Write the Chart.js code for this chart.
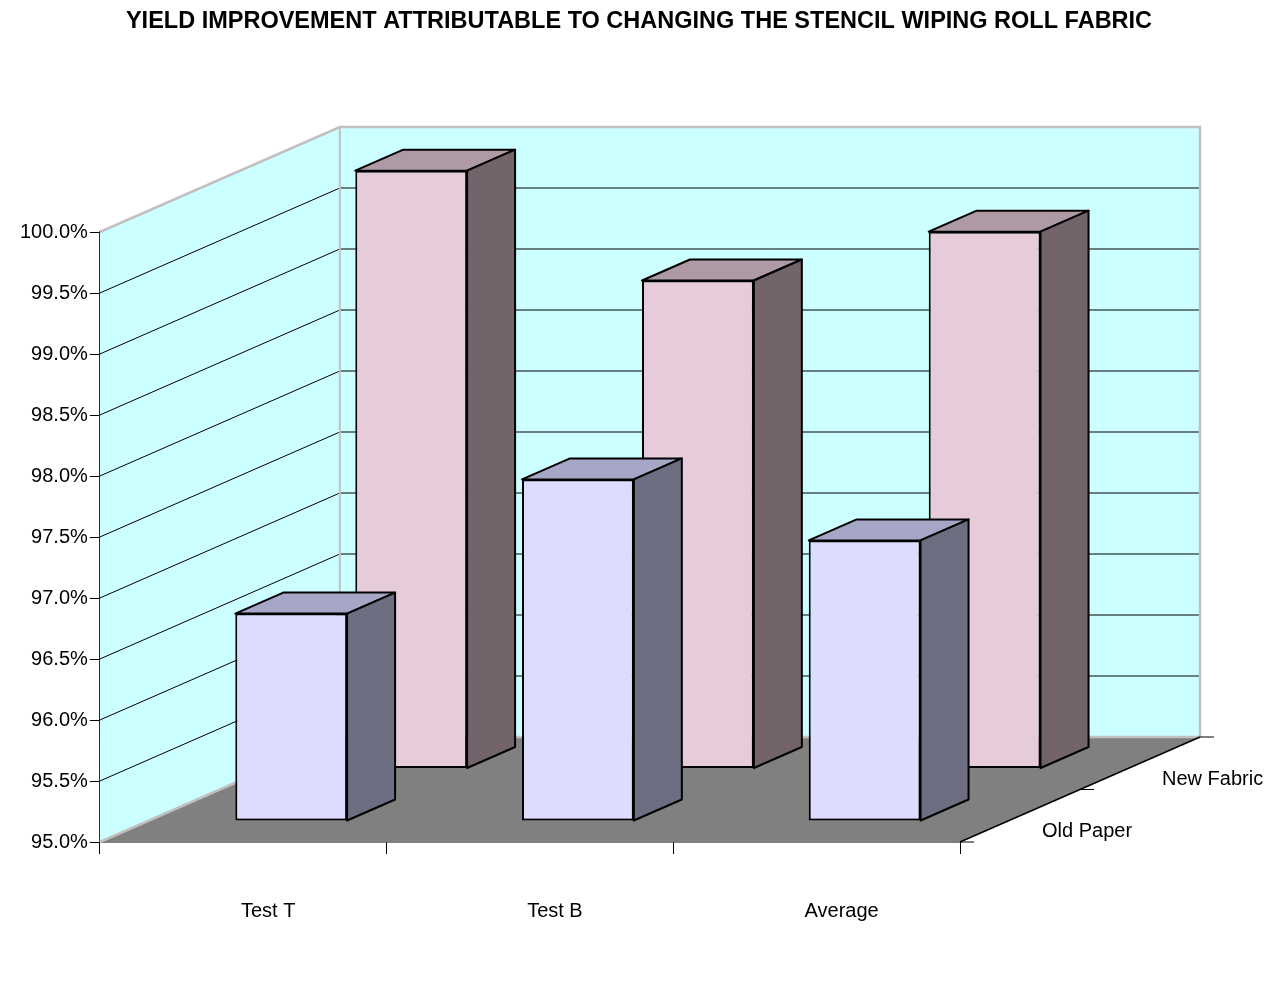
<!DOCTYPE html>
<html lang="en">

<head>
  <meta charset="UTF-8" />
  <title>Yield Improvement</title>
  <script src="https://cdn.jsdelivr.net/npm/chart.js"></script>
  <style>
    body { margin: 0; background: #fff; }
    #wrap { width: 1278px; height: 985px; }
  </style>
</head>

<body>
  <div id="wrap"><canvas id="yieldChart"></canvas></div>

  <script>
    // data
    const categories = ["Test T", "Test B", "Average"];
    const seriesNames = ["Old Paper", "New Fabric"];
    const oldPaper = [96.7, 97.8, 97.3];
    const newFabric = [99.9, 99.0, 99.4];
    const yMin = 95.0, yMax = 100.0, yStep = 0.5;
    const chartTitle = "YIELD IMPROVEMENT ATTRIBUTABLE TO CHANGING THE STENCIL WIPING ROLL FABRIC";

    // fake 3d look: depth vector of the whole floor, where each row starts, how deep a bar is
    const DEPTH = { x: 240, y: -105 };
    const rowFront = [0.2, 0.7];
    const barDepth = 0.2;
    const faceColors = [
      { front: "#DCDCFF", top: "#A6A6C6", side: "#6E6E82" },
      { front: "#E6CCDA", top: "#AD9AA4", side: "#73646C" }
    ];
    const FONT = "'Liberation Sans', Arial, sans-serif";

    function poly(ctx, pts, fill, stroke, lw) {
      ctx.beginPath();
      ctx.moveTo(pts[0][0], pts[0][1]);
      for (let i = 1; i < pts.length; i++) ctx.lineTo(pts[i][0], pts[i][1]);
      ctx.closePath();
      if (fill) { ctx.fillStyle = fill; ctx.fill(); }
      if (stroke) { ctx.strokeStyle = stroke; ctx.lineWidth = lw || 1; ctx.stroke(); }
    }

    function line(ctx, pts, color, lw) {
      ctx.beginPath();
      ctx.moveTo(pts[0][0], pts[0][1]);
      for (let i = 1; i < pts.length; i++) ctx.lineTo(pts[i][0], pts[i][1]);
      ctx.strokeStyle = color;
      ctx.lineWidth = lw || 1;
      ctx.stroke();
    }

    const box3d = {
      id: "box3d",
      beforeDatasetsDraw(chart) {
        const { ctx, chartArea: a, scales: { y } } = chart;
        const dx = DEPTH.x, dy = DEPTH.y;
        ctx.save();
        // floor + walls
        poly(ctx, [[a.left, a.bottom], [a.right, a.bottom], [a.right + dx, a.bottom + dy], [a.left + dx, a.bottom + dy]], "#808080");
        poly(ctx, [[a.left, a.top], [a.left + dx, a.top + dy], [a.left + dx, a.bottom + dy], [a.left, a.bottom]], "#CCFFFF");
        poly(ctx, [[a.left + dx, a.top + dy], [a.right + dx, a.top + dy], [a.right + dx, a.bottom + dy], [a.left + dx, a.bottom + dy]], "#CCFFFF");

        // gridlines across side wall and back wall
        y.ticks.forEach(t => {
          if (t.value <= y.min || t.value >= y.max) return;
          const py = y.getPixelForValue(t.value);
          line(ctx, [[a.left, py], [a.left + dx, py + dy], [a.right + dx, py + dy]], "#000", 1);
        });

        // grey wall edges
        line(ctx, [[a.left, a.top], [a.left + dx, a.top + dy], [a.right + dx, a.top + dy], [a.right + dx, a.bottom + dy]], "#C0C0C0", 2.5);
        line(ctx, [[a.left + dx, a.top + dy], [a.left + dx, a.bottom + dy]], "#C0C0C0", 2);
        line(ctx, [[a.left, a.bottom], [a.left + dx, a.bottom + dy], [a.right + dx, a.bottom + dy]], "#C0C0C0", 2.5);

        // right edge of the floor
        line(ctx, [[a.right, a.bottom], [a.right + dx, a.bottom + dy]], "#000", 1.5);
        ctx.restore();
      },
      beforeDatasetDraw(chart, args) {
        const f = rowFront[args.index];
        chart.ctx.save();
        chart.ctx.translate(f * DEPTH.x, f * DEPTH.y);
      },
      afterDatasetDraw(chart, args) {
        const { ctx } = chart;
        const c = faceColors[args.index];
        const bx = barDepth * DEPTH.x, by = barDepth * DEPTH.y;
        args.meta.data.forEach(el => {
          const p = el.getProps(["x", "y", "base", "width"], true);
          const L = p.x - p.width / 2, R = p.x + p.width / 2;
          ctx.lineJoin = "round";
          poly(ctx, [[L, p.y], [R, p.y], [R + bx, p.y + by], [L + bx, p.y + by]], c.top, "#000", 2);
          poly(ctx, [[R, p.y], [R + bx, p.y + by], [R + bx, p.base + by], [R, p.base]], c.side, "#000", 2);
        });
        ctx.restore();
      },
      afterDraw(chart) {
        const { ctx, chartArea: a } = chart;
        ctx.save();
        ctx.fillStyle = "#000";

        // title, centred on the whole canvas
        ctx.font = "bold 23.5px " + FONT;
        ctx.textAlign = "center";
        ctx.textBaseline = "middle";
        ctx.fillText(chartTitle, chart.width / 2, 22);

        // depth axis: ticks on the floor's right edge and series names
        [0, 0.5, 1].forEach(f => {
          const px = a.right + f * DEPTH.x, py = a.bottom + f * DEPTH.y;
          line(ctx, [[px, py], [px + 14, py]], "#000", 1);
        });
        ctx.font = "20px " + FONT;
        ctx.textAlign = "left";
        seriesNames.forEach((name, i) => {
          const f = (i + 0.5) / seriesNames.length;
          const px = a.right + f * DEPTH.x, py = a.bottom + f * DEPTH.y;
          ctx.fillText(name, px + 22, py + 16);
        });
        ctx.restore();
      }
    };

    Chart.defaults.font.family = FONT;
    Chart.defaults.color = "#000";

    new Chart(document.getElementById("yieldChart"), {
      type: "bar",
      data: {
        labels: categories,
        datasets: [
          {
            label: seriesNames[0],
            data: oldPaper,
            backgroundColor: faceColors[0].front,
            borderColor: "#000",
            borderWidth: 2,
            borderSkipped: false,
            grouped: false,
            base: yMin,
            clip: false
          },
          {
            label: seriesNames[1],
            data: newFabric,
            backgroundColor: faceColors[1].front,
            borderColor: "#000",
            borderWidth: 2,
            borderSkipped: false,
            grouped: false,
            base: yMin,
            clip: false
          }
        ]
      },
      options: {
        responsive: true,
        maintainAspectRatio: false,
        animation: false,
        categoryPercentage: 1,
        barPercentage: 0.39,
        layout: { padding: { left: 18, right: 318, top: 232, bottom: 17 } },
        plugins: {
          legend: { display: false },
          tooltip: { enabled: false },
          title: { display: false }
        },
        scales: {
          x: {
            grid: { display: true, drawOnChartArea: false, tickLength: 12, color: "#000", offset: true },
            border: { color: "#000", width: 1.5 },
            ticks: { font: { size: 20 }, padding: 45, labelOffset: 25 }
          },
          y: {
            min: yMin,
            max: yMax,
            grid: { drawOnChartArea: false, tickLength: 10, color: "#000" },
            border: { color: "#000", width: 1.5 },
            ticks: {
              stepSize: yStep,
              font: { size: 20 },
              padding: 2,
              callback: v => v.toFixed(1) + "%"
            }
          }
        }
      },
      plugins: [box3d]
    });
  </script>
</body>

</html>
